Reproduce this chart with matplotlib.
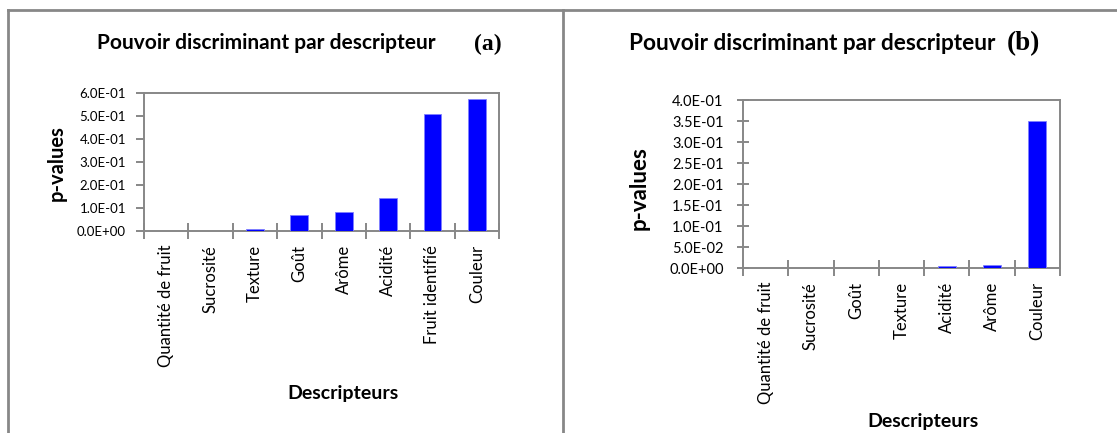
import matplotlib

matplotlib.use('Agg')

import matplotlib.pyplot as plt
from matplotlib.lines import Line2D
from matplotlib.ticker import FixedLocator, FuncFormatter

# panel (a)
labels_a = ['Quantité de fruit', 'Sucrosité', 'Texture', 'Goût', 'Arôme',
            'Acidité', 'Fruit identifié', 'Couleur']
pvals_a = [0.0, 0.0, 0.009, 0.071, 0.083, 0.144, 0.510, 0.572]
yticks_a = [0.0, 0.1, 0.2, 0.3, 0.4, 0.5, 0.6]

# panel (b)
labels_b = ['Quantité de fruit', 'Sucrosité', 'Goût', 'Texture', 'Acidité',
            'Arôme', 'Couleur']
pvals_b = [0.0, 0.0, 0.0, 0.0, 0.004, 0.006, 0.351]
yticks_b = [0.0, 0.05, 0.10, 0.15, 0.20, 0.25, 0.30, 0.35, 0.40]

W, H = 1117, 433
FONT = 'Lato'
GRAY = '#878787'

plt.rcParams['font.family'] = [FONT, 'DejaVu Sans']

fig = plt.figure(figsize=(W / 100, H / 100), dpi=100)


def px(x0, y0, x1, y1):
    # pixel box (top-left origin) -> figure fraction rect
    return [x0 / W, 1 - y1 / H, (x1 - x0) / W, (y1 - y0) / H]


def panel(rect, labels, vals, yticks, ymax, ytick_dir, ytick_len, xtick_len,
          ysize, ypad):
    ax = fig.add_axes(rect)
    n = len(labels)
    x = list(range(n))
    ax.bar(x, vals, width=0.4, color='#0000ff', edgecolor='#8080ff',
           linewidth=0.6, zorder=3)
    ax.set_xlim(-0.5, n - 0.5)
    ax.set_ylim(0, ymax)
    for s in ax.spines.values():
        s.set_color(GRAY)
        s.set_linewidth(1.4)
    ax.yaxis.set_major_locator(FixedLocator(yticks))
    ax.yaxis.set_major_formatter(FuncFormatter(lambda v, _: f'{v:.1E}'))
    ax.tick_params(axis='y', direction=ytick_dir, length=ytick_len,
                   width=1.4, color=GRAY, labelsize=ysize, pad=ypad)
    ax.set_xticks(x)
    ax.set_xticklabels(labels, rotation=90, fontsize=12)
    ax.set_xticks([i - 0.5 for i in range(n + 1)], minor=True)
    ax.tick_params(axis='x', which='major', length=0, pad=10)
    ax.tick_params(axis='x', which='minor', direction='inout',
                   length=xtick_len, width=1.4, color=GRAY)
    return ax


ax_a = panel(px(144, 93, 499, 231), labels_a, pvals_a, yticks_a, 0.6,
             'out', 6, 11, 9.5, 7)
ax_b = panel(px(743, 100, 1060, 268), labels_b, pvals_b, yticks_b, 0.4,
             'inout', 8, 12, 10.5, 10)


# titles, axis labels, panel tags
def ftext(xp, yp, s, **kw):
    fig.text(xp / W, 1 - yp / H, s, ha='center', va='center', **kw)


ftext(266, 43, 'Pouvoir discriminant par descripteur', fontsize=15,
      fontweight='bold')
ftext(812, 44, 'Pouvoir discriminant par descripteur', fontsize=16.3,
      fontweight='bold')
ftext(488, 44, '(a)', fontsize=17, fontweight='bold',
      family='Liberation Serif')
ftext(1023, 44, '(b)', fontsize=19.5, fontweight='bold',
      family='Liberation Serif')
ftext(57, 163, 'p-values', fontsize=14.5, fontweight='bold', rotation=90)
ftext(639, 188, 'p-values', fontsize=16, fontweight='bold', rotation=90)
ftext(343, 393, 'Descripteurs', fontsize=14, fontweight='bold')
ftext(923, 422, 'Descripteurs', fontsize=14, fontweight='bold')

# panel frames
for xs, ys in [((8, 8), (H, 10)), ((8, W), (10, 10)), ((563, 563), (H, 10))]:
    fig.add_artist(Line2D([v / W for v in xs], [1 - v / H for v in ys],
                          color=GRAY, linewidth=2, transform=fig.transFigure))

plt.savefig('out.png', dpi=100)
